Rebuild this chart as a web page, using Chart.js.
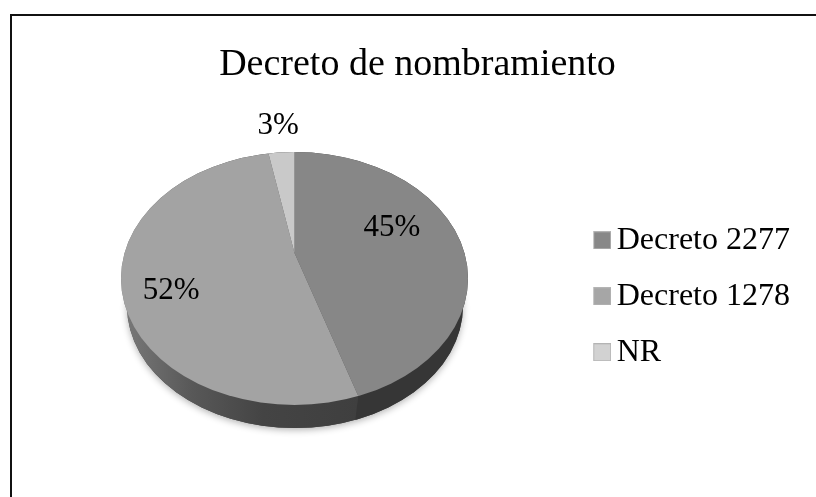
<!DOCTYPE html>
<html>
<head>
<meta charset="utf-8">
<script src="https://cdn.jsdelivr.net/npm/chart.js@4"></script>
<style>
body { margin: 0; background: #fff; }
#frame { position: absolute; left: 10px; top: 14px; width: 806px; height: 483px; border-top: 2px solid #111; border-left: 2px solid #111; box-sizing: border-box; }
canvas { display: block; }
</style>
</head>
<body>
<canvas id="pie" width="816" height="497"></canvas>
<div id="frame"></div>
<script>
const chartTitle = 'Decreto de nombramiento';
const categories = ['Decreto 2277', 'Decreto 1278', 'NR'];
const shares = [45, 52, 3];
const sliceColors = ['#878787', '#a3a3a3', '#c9c9c9'];
const swatchColors = ['#888888', '#a6a6a6', '#d2d2d2'];

// look of the tilted pie: top ellipse, slice apex sits behind its centre
const tilt = { cx: 294.5, cy: 278.5, rx: 173.5, ry: 126.5, apexY: 253 };
const base = { cx: 295, cy: 306, rx: 168, ry: 122 };
// label nudges from a point on each slice's middle ray
const labelNudge = [[-21, -11], [-7, 16], [-5, -40]];

// legend key, with a blank strip on the left to pull it closer to the text
function swatch(color) {
    const c = document.createElement('canvas');
    c.width = 22;
    c.height = 18;
    const g = c.getContext('2d');
    g.fillStyle = color;
    g.fillRect(4, 0, 18, 18);
    g.strokeStyle = '#b4b4b4';
    g.strokeRect(4.5, 0.5, 17, 17);
    return c;
}

// where the ray at this angle leaves the top ellipse
function rimPoint(angle) {
    const sy = tilt.ry / tilt.rx;
    const off = (tilt.cy - tilt.apexY) / sy;
    const s = Math.sin(angle), c = Math.cos(angle);
    const t = off * s + Math.sqrt(off * off * s * s + tilt.rx * tilt.rx - off * off);
    return { x: tilt.cx + t * c, y: tilt.apexY + t * s * sy };
}

function wallShape(ctx) {
    ctx.beginPath();
    ctx.ellipse(tilt.cx, tilt.cy, tilt.rx, tilt.ry, 0, 0, Math.PI * 2);
    ctx.ellipse(base.cx, base.cy, base.rx, base.ry, 0, 0, Math.PI * 2);
}

const tiltedPie = {
    id: 'tiltedPie',
    beforeDatasetDraw(chart) {
        const ctx = chart.ctx;
        const arcs = chart.getDatasetMeta(0).data;
        const rim = rimPoint(arcs[0].endAngle);

        // soft shadow under the side wall
        ctx.save();
        ctx.shadowColor = 'rgba(0,0,0,0.3)';
        ctx.shadowBlur = 7;
        ctx.shadowOffsetY = 2;
        ctx.fillStyle = '#444';
        ctx.beginPath();
        ctx.ellipse(base.cx, base.cy, base.rx, base.ry, 0, 0, Math.PI * 2);
        ctx.fill();
        ctx.restore();

        // wall under the big slice, lighter to the left
        const leftWall = ctx.createLinearGradient(tilt.cx - tilt.rx, 0, rim.x, 0);
        leftWall.addColorStop(0, '#7a7a7a');
        leftWall.addColorStop(0.3, '#585858');
        leftWall.addColorStop(0.6, '#444444');
        leftWall.addColorStop(1, '#3f3f3f');
        ctx.save();
        ctx.beginPath();
        ctx.moveTo(0, 0);
        ctx.lineTo(rim.x, 0);
        ctx.lineTo(rim.x, rim.y);
        ctx.lineTo(rim.x - 3, rim.y + 23);
        ctx.lineTo(rim.x - 3, 497);
        ctx.lineTo(0, 497);
        ctx.closePath();
        ctx.clip();
        ctx.fillStyle = leftWall;
        wallShape(ctx);
        ctx.fill();
        ctx.restore();

        // wall under the first slice
        ctx.save();
        ctx.beginPath();
        ctx.moveTo(816, 0);
        ctx.lineTo(rim.x, 0);
        ctx.lineTo(rim.x, rim.y);
        ctx.lineTo(rim.x - 3, rim.y + 23);
        ctx.lineTo(rim.x - 3, 497);
        ctx.lineTo(816, 497);
        ctx.closePath();
        ctx.clip();
        ctx.fillStyle = '#363636';
        wallShape(ctx);
        ctx.fill();
        ctx.restore();

        // squash the library's arcs into the tilted top
        const r = arcs[0].outerRadius;
        const sy = tilt.ry / tilt.rx;
        const reach = ((tilt.cy - tilt.apexY) / sy + tilt.rx + 4) / r;
        ctx.save();
        ctx.beginPath();
        ctx.ellipse(tilt.cx, tilt.cy, tilt.rx, tilt.ry, 0, 0, Math.PI * 2);
        ctx.clip();
        ctx.translate(tilt.cx, tilt.apexY);
        ctx.scale(reach, reach * sy);
        ctx.translate(-arcs[0].x, -arcs[0].y);
    },
    afterDatasetDraw(chart) {
        chart.ctx.restore();
    },
    afterDatasetsDraw(chart) {
        const ctx = chart.ctx;
        const sy = tilt.ry / tilt.rx;
        ctx.save();
        ctx.font = '31px "Liberation Serif"';
        ctx.fillStyle = '#000';
        ctx.textAlign = 'center';
        ctx.textBaseline = 'middle';
        chart.getDatasetMeta(0).data.forEach((arc, i) => {
            const mid = (arc.startAngle + arc.endAngle) / 2;
            const x = tilt.cx + Math.cos(mid) * 120 + labelNudge[i][0];
            const y = tilt.apexY + Math.sin(mid) * 120 * sy + labelNudge[i][1];
            ctx.fillText(shares[i] + '%', x, y);
        });
        ctx.restore();
    }
};

new Chart(document.getElementById('pie'), {
    type: 'pie',
    data: {
        labels: categories,
        datasets: [{
            data: shares,
            backgroundColor: sliceColors,
            borderWidth: 0
        }]
    },
    options: {
        responsive: false,
        animation: false,
        layout: { padding: { left: 35, right: 16 } },
        plugins: {
            title: {
                display: true,
                text: chartTitle,
                color: '#000',
                font: { family: '"Liberation Serif"', size: 38, weight: 'normal' },
                padding: { top: 42, bottom: 8 }
            },
            legend: {
                position: 'right',
                fullSize: false,
                labels: {
                    color: '#000',
                    font: { family: '"Liberation Serif"', size: 32 },
                    padding: 24,
                    usePointStyle: true,
                    pointStyleWidth: 1,
                    generateLabels: chart => chart.data.labels.map((text, i) => ({
                        text: text,
                        fontColor: '#000',
                        pointStyle: swatch(swatchColors[i]),
                        index: i
                    }))
                }
            },
            tooltip: { enabled: false }
        }
    },
    plugins: [tiltedPie]
});
</script>
</body>
</html>
